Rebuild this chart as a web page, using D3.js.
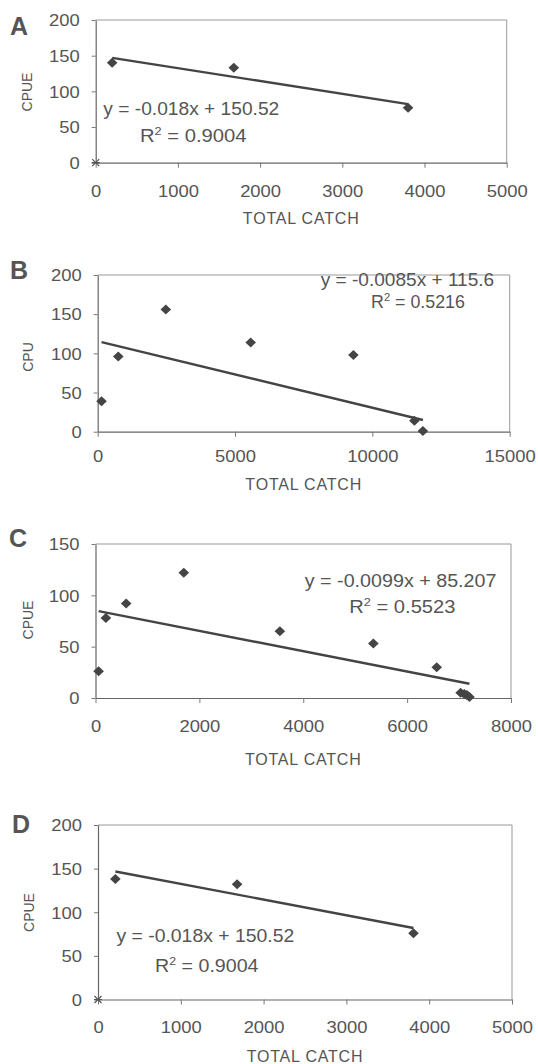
<html>
<head>
<script src="https://cdn.jsdelivr.net/npm/d3@7"></script>
<style>
  body { margin: 0; background: #fff; }
  text { font-family: "Liberation Sans", Arial, sans-serif; fill: #555; }
</style>
</head>
<body>
<svg id="chart"></svg>
<script>
// values
var catchA = [200, 1680, 3800];
var cpueA  = [140, 133, 77];
var catchB = [140, 750, 2480, 5570, 9310, 11530, 11840];
var cpuB   = [39, 96, 156, 114, 98, 14, 1];
var catchC = [60, 200, 590, 1700, 3550, 5350, 6570, 7030, 7100, 7150, 7200];
var cpueC  = [26, 78, 92, 122, 65, 53, 30, 5, 4, 3, 1];
var catchD = [210, 1680, 3810];
var cpueD  = [138, 132, 76];

var slopes     = [-0.018, -0.0085, -0.0099, -0.018];
var intercepts = [150.52, 115.6, 85.207, 150.52];
var eqTexts    = ["y = -0.018x + 150.52", "y = -0.0085x + 115.6", "y = -0.0099x + 85.207", "y = -0.018x + 150.52"];
var r2Values   = ["0.9004", "0.5216", "0.5523", "0.9004"];
var letters    = ["A", "B", "C", "D"];
var yTitles    = ["CPUE", "CPU", "CPUE", "CPUE"];
var xTitle     = "TOTAL CATCH";

var xTicksA = [0, 1000, 2000, 3000, 4000, 5000];
var xTicksB = [0, 5000, 10000, 15000];
var xTicksC = [0, 2000, 4000, 6000, 8000];
var yTicks200 = [0, 50, 100, 150, 200];
var yTicks150 = [0, 50, 100, 150];

var width = 538, height = 1064;

// layout of each panel (pixels)
var layout = [
  {l: 95.7, r: 506.7, t: 20,  b: 162.7, lx: 10, ly: 35,    yt: 32,   ytc: 92,    xl: 34.5, xt: 61.3,
   eq: [103.3, 115, 176],   r2: [140, 141.7, 106.7]},
  {l: 97.7, r: 509.7, t: 275, b: 431.7, lx: 10, ly: 279,   yt: 32.5, ytc: 357,   xl: 30,   xt: 58.3,
   eq: [320.7, 286, 173.6], r2: [371, 307.7, 94]},
  {l: 95.5, r: 511,   t: 544, b: 698,   lx: 9,  ly: 546.7, yt: 32.5, ytc: 620,   xl: 33.7, xt: 67,
   eq: [304.8, 586.7, 191.8], r2: [349.3, 612.7, 106.2]},
  {l: 98,   r: 512,   t: 825, b: 999.5, lx: 12, ly: 833.3, yt: 34,   ytc: 912.5, xl: 33.8, xt: 62.2,
   eq: [116.4, 941.7, 178], r2: [155.1, 971.7, 103.5]}
];

var panels = [
  {xs: catchA, ys: cpueA, xTicks: xTicksA, yTicks: yTicks200, origin: true},
  {xs: catchB, ys: cpuB,  xTicks: xTicksB, yTicks: yTicks200, origin: false},
  {xs: catchC, ys: cpueC, xTicks: xTicksC, yTicks: yTicks150, origin: false},
  {xs: catchD, ys: cpueD, xTicks: xTicksA, yTicks: yTicks200, origin: true}
];

var svg = d3.select("#chart").attr("width", width).attr("height", height);
svg.append("rect").attr("width", width).attr("height", height).attr("fill", "#fff");

var tickScale = 1.15;

// fit a text element to a target width by stretching it horizontally
function stretch(sel, x, y, target) {
  var w = sel.node().getComputedTextLength();
  sel.attr("transform", "translate(" + x + "," + y + ") scale(" + (target / w) + ",1)");
}

panels.forEach(function(p, i) {
  var L = layout[i];
  var x = d3.scaleLinear().domain([p.xTicks[0], p.xTicks[p.xTicks.length - 1]]).range([L.l, L.r]);
  var y = d3.scaleLinear().domain([0, p.yTicks[p.yTicks.length - 1]]).range([L.b, L.t]);
  var g = svg.append("g");

  // faint top/right plot border
  g.append("path")
    .attr("d", "M" + x.range()[0] + "," + y.range()[1] + "H" + x.range()[1] + "V" + y.range()[0])
    .attr("fill", "none").attr("stroke", "#999").attr("stroke-width", 1);

  var xa = g.append("g")
    .attr("transform", "translate(0," + L.b + ")")
    .call(d3.axisBottom(x).tickValues(p.xTicks).tickSize(5).tickSizeOuter(0).tickFormat(d3.format("d")));
  xa.selectAll("text")
    .attr("y", L.xl).attr("dy", 0)
    .attr("transform", "scale(" + tickScale + ",1)")
    .style("font-size", "16px");

  var ya = g.append("g")
    .attr("transform", "translate(" + L.l + ",0)")
    .call(d3.axisLeft(y).tickValues(p.yTicks).tickSize(4).tickSizeOuter(0));
  ya.selectAll("text")
    .attr("x", -16 / tickScale).attr("dy", "0.36em")
    .attr("transform", "scale(" + tickScale + ",1)")
    .style("font-size", "16px");

  [xa, ya].forEach(function(a) {
    a.select(".domain").attr("stroke", "#666").attr("stroke-width", 1.2);
    a.selectAll(".tick line").attr("stroke", "#777");
    a.selectAll("text").attr("fill", "#555").attr("font-family", null);
  });

  // trend line over the range of the data
  var x0 = d3.min(p.xs), x1 = d3.max(p.xs);
  g.append("line")
    .attr("x1", x(x0)).attr("y1", y(slopes[i] * x0 + intercepts[i]))
    .attr("x2", x(x1)).attr("y2", y(slopes[i] * x1 + intercepts[i]))
    .attr("stroke", "#444").attr("stroke-width", 2.4);

  // diamonds
  g.selectAll(".pt")
    .data(p.xs)
    .enter()
    .append("path")
    .attr("class", "pt")
    .attr("d", "M0,-5L5.3,0L0,5L-5.3,0Z")
    .attr("transform", function(d, j) { return "translate(" + x(d) + "," + y(p.ys[j]) + ")"; })
    .attr("fill", "#444");

  if (p.origin) {
    g.append("path")
      .attr("d", "M-3.5,-3.5L3.5,3.5M-3.5,3.5L3.5,-3.5M-4,0H4")
      .attr("transform", "translate(" + x(0) + "," + y(0) + ")")
      .attr("stroke", "#555").attr("stroke-width", 1.2);
  }

  // panel letter
  g.append("text")
    .attr("x", L.lx).attr("y", L.ly)
    .style("font-size", "25px").style("font-weight", "bold")
    .text(letters[i]);

  // axis titles
  g.append("text")
    .attr("transform", "translate(" + L.yt + "," + L.ytc + ") rotate(-90)")
    .attr("text-anchor", "middle")
    .style("font-size", "14px")
    .text(yTitles[i]);

  g.append("text")
    .attr("x", (L.l + L.r) / 2).attr("y", L.b + L.xt)
    .attr("text-anchor", "middle")
    .style("font-size", "16px").style("letter-spacing", "0.8px")
    .text(xTitle);

  // trendline labels
  var eq = g.append("text").style("font-size", "17.5px").text(eqTexts[i]);
  stretch(eq, L.eq[0], L.eq[1], L.eq[2]);

  var r2 = g.append("text").style("font-size", "17.5px");
  r2.append("tspan").text("R");
  r2.append("tspan").attr("dy", -7).style("font-size", "11px").text("2");
  r2.append("tspan").attr("dy", 7).text(" = " + r2Values[i]);
  stretch(r2, L.r2[0], L.r2[1], L.r2[2]);
});
</script>
</body>
</html>
